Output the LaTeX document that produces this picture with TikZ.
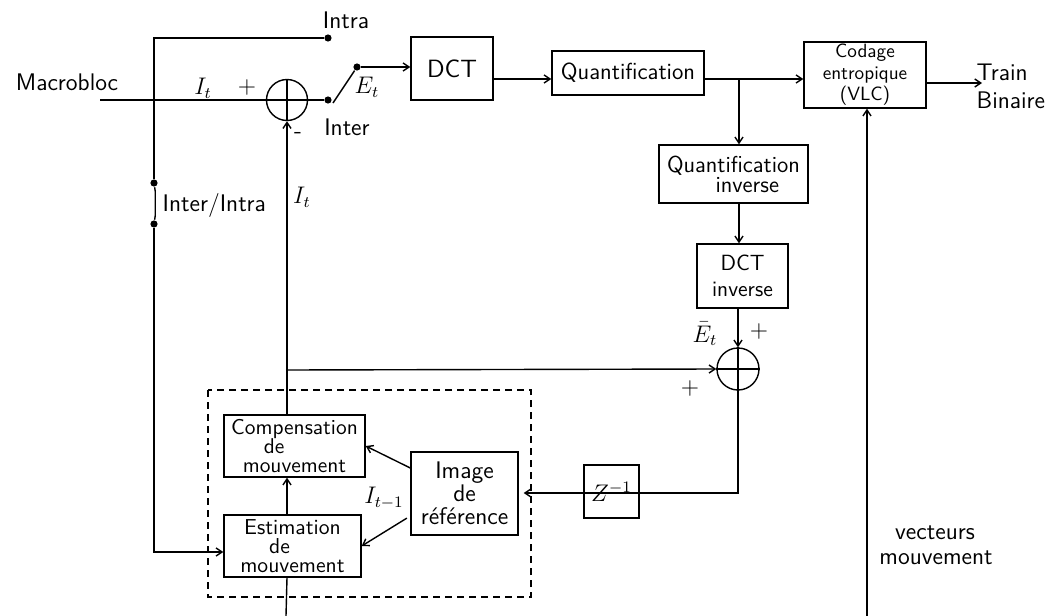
\documentclass[tikz,border=0pt]{standalone}
\usetikzlibrary{arrows.meta}
\newcommand\tightlines{\lineskiplimit=-20pt\relax\lineskip=0pt\relax}
\begin{document}
\begin{tikzpicture}[x=0.5pt,y=-0.5pt,
  line width=0.7pt,
  >={Straight Barb[length=3pt,width=4pt]},
  every node/.style={inner sep=0pt, font=\sffamily\fontsize{12}{14}\selectfont},
  blk/.style={draw, rectangle, align=center},
  sumnode/.style={draw, circle, minimum size=21pt},
  dot/.style={circle, fill, minimum size=3.6pt},
  mlab/.style={font=\fontsize{12}{14}\selectfont}
]
\useasboundingbox (0,0) rectangle (1057,616);

% ---- blocks ----
\node[blk, minimum width=41pt, minimum height=31.5pt,
      font={\sffamily\fontsize{12.5}{14}\selectfont}] (dct) at (452,68.5) {DCT};
\node[blk, minimum width=76pt, minimum height=22pt,
      font={\sffamily\fontsize{11.6}{13}\selectfont}] (quant) at (628,73) {Quantification};
\node[blk, minimum width=61pt, minimum height=33pt,
      font={\sffamily\fontsize{9.6}{10.7}\selectfont\tightlines}] (vlc) at (865,75)
      {Codage\\entropique\\(VLC)};
\node[blk, minimum width=74.5pt, minimum height=29pt,
      font={\sffamily\fontsize{11.5}{10}\selectfont\tightlines}] (qinv) at (733.5,174)
      {Quantification\\\hspace*{1.2em}inverse};
\node[blk, minimum width=45.5pt, minimum height=32pt,
      font={\sffamily\fontsize{11}{13}\selectfont}] (dctinv) at (742.5,276)
      {DCT\\inverse};
\node[blk, minimum width=70.5pt, minimum height=31pt,
      font={\sffamily\fontsize{10.7}{9.4}\selectfont\tightlines}] (comp) at (294.5,446)
      {Compensation\\de\hspace*{1.9em}\null\\mouvement};
\node[blk, minimum width=68.5pt, minimum height=31pt,
      font={\sffamily\fontsize{10.8}{9.5}\selectfont\tightlines}] (estim) at (292.5,546)
      {Estimation\\de\hspace*{1.2em}\null\\mouvement};
\node[blk, minimum width=53.5pt, minimum height=41.5pt,
      font={\sffamily\fontsize{12}{11.5}\selectfont\tightlines}] (imgref) at (464.5,493.5)
      {Image\\de\\r\'ef\'erence};
\node[blk, minimum width=27.5pt, minimum height=26.5pt, mlab] (zbox) at (611.5,491.5) {$Z^{-1}$};

% motion estimation / compensation unit
\draw[dashed, dash pattern=on 3.5pt off 2.5pt] (208,390) rectangle (531,597);

% ---- adders ----
\node[sumnode, minimum size=20.5pt] (sum1) at (287,100) {};
\node[sumnode] (sum2) at (738,369) {};

% ---- switch contacts ----
\node[dot] (dIntra) at (328,38) {};
\node[dot] (dInter) at (328,100) {};
\node[dot] (dOut) at (357,67) {};
\node[dot] (dSwA) at (154,183) {};
\node[dot] (dSwB) at (154,224) {};

% ---- free ends ----
\coordinate (inMb) at (100,100);
\coordinate (busTop) at (154,38);
\coordinate (busLow) at (154,552);
\coordinate (armFoot) at (333,103);
\coordinate (row) at (0,79);
\coordinate (branch) at (739,79);
\coordinate (trainEnd) at (982,83);
\coordinate (tap) at (286,370);
\coordinate (zrow) at (0,493);
\coordinate (bot1) at (286,616);
\coordinate (bot2) at (867,616);

% ---- connectors ----
\draw (inMb) -- (sum1.east) -- (dInter);
\draw (dIntra) -- (busTop) -- (dSwA);
\draw (dSwA) -- ++(1.2,8) -- ++(0,25) -- (dSwB);
\draw[->] (dSwB) -- (busLow) -- (busLow -| estim.west);
\draw (armFoot) -- (dOut);
\draw[->] (dOut) -- (dOut -| dct.west);
\draw[->] (dct.east |- row) -- (quant.west |- row);
\draw[->] (quant.east |- row) -- (vlc.west |- row);
\draw[->] (branch) -- (branch |- qinv.north);
\draw[->] (vlc.east |- trainEnd) -- (trainEnd);
\draw[->] (branch |- qinv.south) -- (branch |- dctinv.north);
\draw[->] (sum2 |- dctinv.south) -- (sum2.north);
\draw[->, shorten >=2.5pt] (sum2.north) -- (sum2.south) -- (sum2 |- zrow) -- (imgref.east |- zrow);
\draw[->] (tap) -- (sum2.west);
\draw (sum2.west) -- (sum2.east);
\draw[->] (sum1 |- comp.north) -- (sum1.south);
\draw (sum1.south) -- (sum1.north);
\draw[->] (sum1 |- estim.north) -- (sum1 |- comp.south);
\draw (sum1 |- estim.south) -- (bot1);
\draw[->] (bot2) -- (bot2 |- vlc.south);
\draw[->] (imgref.west |- 0,468) -- (comp.east);
\draw[->, shorten <=2pt] (imgref.west |- 0,516) -- (estim.east);

% ---- labels ----
\node (tMacro) at (67,82) {Macrobloc};
\node (tIntra) at (346,20) {Intra};
\node (tInter) at (347,127) {Inter};
\node[anchor=west] (tSw) at (162,205) {Inter/Intra};
\node[mlab] (tIt1) at (203,88) {$I_t$};
\node[mlab] (tPlus1) at (247,87) {$+$};
\node[mlab] (tEt) at (367,87) {$E_t$};
\node (tMinus) at (298,135) {-};
\node[mlab] (tIt2) at (302,197) {$I_t$};
\node[mlab] (tEbar) at (705,334) {$\bar{E}_t$};
\node[mlab] (tPlus2) at (759,331) {$+$};
\node[mlab] (tPlus3) at (690,388) {$+$};
\node[mlab] (tItm) at (384,498) {$I_{t-1}$};
\node[anchor=west] (tTrain) at (976,72) {Train};
\node[anchor=west] (tBin) at (976,100) {Binaire};
\node (tVec) at (935,533) {vecteurs};
\node (tMvt) at (936,558) {mouvement};
\end{tikzpicture}
\end{document}
